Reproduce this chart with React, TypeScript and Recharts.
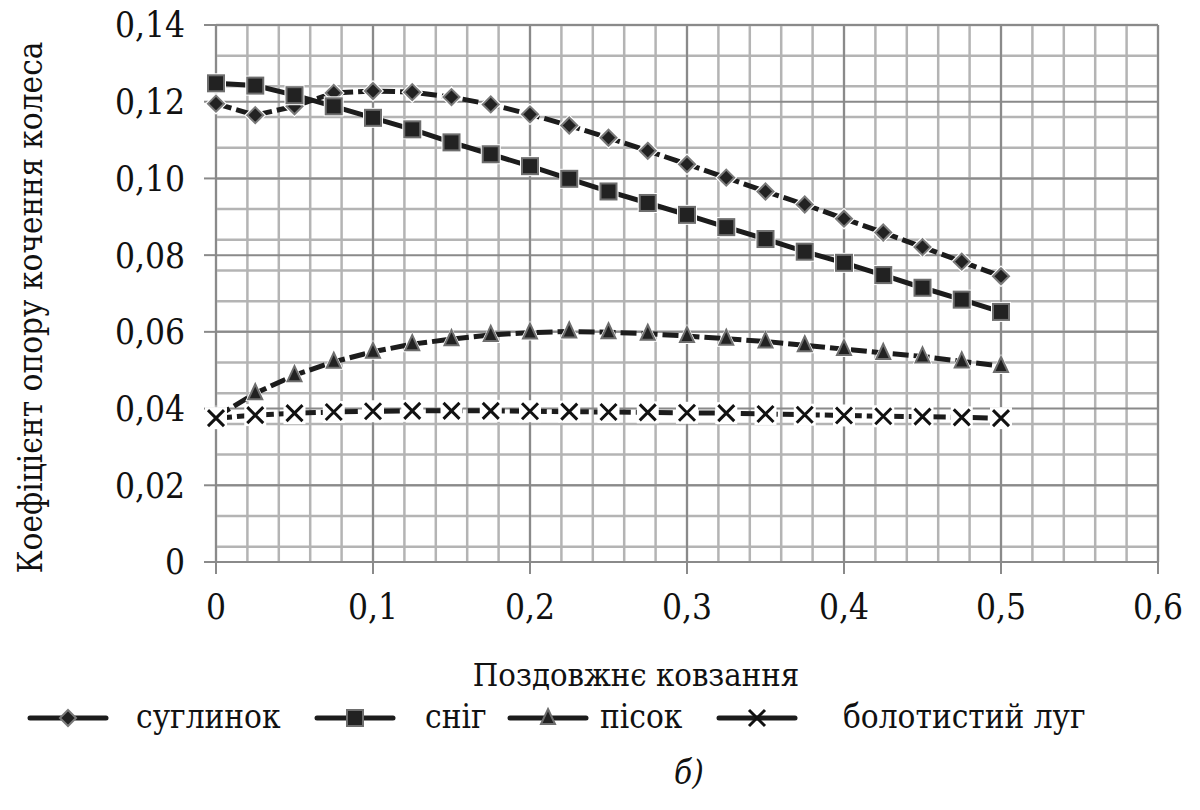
import { LineChart, Line, XAxis, YAxis, CartesianGrid, Legend } from 'recharts';

const slip = [0, 0.025, 0.05, 0.075, 0.1, 0.125, 0.15, 0.175, 0.2, 0.225, 0.25, 0.275, 0.3, 0.325, 0.35, 0.375, 0.4, 0.425, 0.45, 0.475, 0.5];

const loam = [0.1195, 0.1165, 0.1188, 0.1223, 0.1228, 0.1225, 0.1212, 0.1193, 0.1167, 0.1138, 0.1106, 0.1072, 0.1037, 0.1002, 0.0966, 0.0932, 0.0895, 0.0859, 0.0821, 0.0783, 0.0745];
const snow = [0.1248, 0.1242, 0.1217, 0.1188, 0.1158, 0.1128, 0.1094, 0.1063, 0.1032, 0.0999, 0.0966, 0.0936, 0.0905, 0.0873, 0.0842, 0.0809, 0.0780, 0.0748, 0.0715, 0.0684, 0.0652];
const sand = [0.0378, 0.0440, 0.0487, 0.0522, 0.0548, 0.0568, 0.0581, 0.0592, 0.0598, 0.0601, 0.0599, 0.0595, 0.0589, 0.0582, 0.0575, 0.0565, 0.0555, 0.0545, 0.0536, 0.0523, 0.0511];
const bog = [0.0375, 0.0383, 0.0388, 0.0391, 0.0393, 0.0394, 0.0394, 0.0394, 0.0393, 0.0392, 0.0391, 0.0390, 0.0389, 0.0388, 0.0386, 0.0384, 0.0382, 0.0380, 0.0379, 0.0377, 0.0375];

const seriesNames = ['суглинок', 'сніг', 'пісок', 'болотистий луг'];

const xTicks = [0, 0.1, 0.2, 0.3, 0.4, 0.5, 0.6];
const yTicks = [0, 0.02, 0.04, 0.06, 0.08, 0.1, 0.12, 0.14];
const xMinor = Array.from({ length: 31 }, (_, i) => i * 0.02);
const yMinor = Array.from({ length: 36 }, (_, i) => i * 0.004);

const data = slip.map((x, i) => ({ x, loam: loam[i], snow: snow[i], sand: sand[i], bog: bog[i] }));

const FONT = 'DejaVu Serif Condensed, DejaVu Serif, serif';
const LINE = '#1c1c1c';
const txt = { fontFamily: FONT, fontStretch: 'condensed' as const };

const diamond = (p: any) => {
  const { cx, cy, index, noHalo } = p;
  if (cx == null || cy == null) return <g key={`dm-${index}`} />;
  return (
    <g key={`dm-${index}`}>
      {!noHalo && <path d={`M${cx},${cy - 11}L${cx + 11},${cy}L${cx},${cy + 11}L${cx - 11},${cy}Z`} fill="#fff" />}
      <path d={`M${cx},${cy - 8}L${cx + 8},${cy}L${cx},${cy + 8}L${cx - 8},${cy}Z`} fill="#222" stroke="#7a7a7a" strokeWidth={2} />
    </g>
  );
};

const square = (p: any) => {
  const { cx, cy, index, noHalo } = p;
  if (cx == null || cy == null) return <g key={`sq-${index}`} />;
  return (
    <g key={`sq-${index}`}>
      {!noHalo && <rect x={cx - 10} y={cy - 10} width={20} height={20} fill="#fff" />}
      <rect x={cx - 8} y={cy - 8} width={16} height={16} fill="#222" stroke="#6e6e6e" strokeWidth={2} />
    </g>
  );
};

const triangle = (p: any) => {
  const { cx, cy, index, noHalo } = p;
  if (cx == null || cy == null) return <g key={`tr-${index}`} />;
  return (
    <g key={`tr-${index}`}>
      {!noHalo && <path d={`M${cx},${cy - 12}L${cx + 10},${cy + 8}L${cx - 10},${cy + 8}Z`} fill="#fff" />}
      <path d={`M${cx},${cy - 9}L${cx + 7},${cy + 6}L${cx - 7},${cy + 6}Z`} fill="#222" stroke="#6e6e6e" strokeWidth={2} />
    </g>
  );
};

const cross = (p: any) => {
  const { cx, cy, index, noHalo } = p;
  if (cx == null || cy == null) return <g key={`x-${index}`} />;
  return (
    <g key={`x-${index}`}>
      {!noHalo && <rect x={cx - 11} y={cy - 11} width={22} height={22} fill="#fff" />}
      <path d={`M${cx - 8},${cy - 8}L${cx + 8},${cy + 8}M${cx + 8},${cy - 8}L${cx - 8},${cy + 8}`} stroke="#111" strokeWidth={3} />
    </g>
  );
};

const markers = [diamond, square, triangle, cross];

// legend icon centres and text starts
const legendPos = [
  { icon: 68, text: 136 },
  { icon: 355, text: 425 },
  { icon: 548, text: 600 },
  { icon: 757, text: 843 },
];

const renderLegend = () => (
  <svg width={1200} height={50} style={{ display: 'block' }}>
    {seriesNames.map((name, i) => {
      const pos = legendPos[i];
      return (
        <g key={name}>
          <line x1={pos.icon - 38} x2={pos.icon + 38} y1={24} y2={24} stroke={LINE} strokeWidth={5} strokeLinecap="round" />
          {markers[i]({ cx: pos.icon, cy: 24, index: 'lg' + i, noHalo: true })}
          <text x={pos.text} y={24} dy="0.3em" style={txt} fontSize={33} fill="#111">{name}</text>
        </g>
      );
    })}
  </svg>
);

const fmtY = (v: number) => (v === 0 ? '0' : v.toFixed(2).replace('.', ','));
const fmtX = (v: number) => (v === 0 ? '0' : v.toFixed(1).replace('.', ','));

export default function App() {
  return (
    <div style={{ position: 'absolute', left: 0, top: 0, width: 1200, height: 810, background: '#fff', ...txt }}>
      <LineChart width={1200} height={810} data={data} margin={{ top: 25, right: 42, left: 0, bottom: 0 }}>
        <CartesianGrid verticalValues={xMinor} horizontalValues={yMinor} stroke="#b4b4b4" strokeWidth={2.5} fill="none" />
        <CartesianGrid verticalValues={xTicks} horizontalValues={yTicks} stroke="#8a8a8a" strokeWidth={2} fill="none" />
        <XAxis
          dataKey="x"
          type="number"
          domain={[0, 0.6]}
          ticks={xTicks}
          tickFormatter={fmtX}
          height={248}
          tickSize={12}
          tickMargin={20}
          axisLine={{ stroke: '#8a8a8a', strokeWidth: 2 }}
          tickLine={{ stroke: '#8a8a8a', strokeWidth: 2 }}
          tick={{ ...txt, fontSize: 35, fill: '#111' }}
          label={({ viewBox }: any) => (
            <text x={viewBox.x + viewBox.width / 2 - 51} y={viewBox.y + 113} dy="0.35em" textAnchor="middle" style={txt} fontSize={32.5} fill="#111">
              Поздовжнє ковзання
            </text>
          )}
        />
        <YAxis
          type="number"
          domain={[0, 0.14]}
          ticks={yTicks}
          tickFormatter={fmtY}
          width={216}
          tickSize={12}
          tickMargin={19}
          axisLine={{ stroke: '#8a8a8a', strokeWidth: 2 }}
          tickLine={{ stroke: '#8a8a8a', strokeWidth: 2 }}
          tick={{ ...txt, fontSize: 35, fill: '#111' }}
          label={({ viewBox }: any) => (
            <text
              x={30}
              y={viewBox.y + viewBox.height / 2 + 14}
              transform={`rotate(-90, 30, ${viewBox.y + viewBox.height / 2 + 14})`}
              dy="0.35em"
              textAnchor="middle"
              style={txt}
              fontSize={33}
              fill="#111"
            >
              Коефіцієнт опору кочення колеса
            </text>
          )}
        />
        <Legend verticalAlign="middle" layout="horizontal" wrapperStyle={{ top: 694, left: 0, width: 1200 }} content={renderLegend} />
        <Line dataKey="loam" name={seriesNames[0]} stroke={LINE} strokeWidth={5} strokeDasharray="16 5" dot={diamond} isAnimationActive={false} />
        <Line dataKey="snow" name={seriesNames[1]} stroke={LINE} strokeWidth={5} dot={square} isAnimationActive={false} />
        <Line dataKey="sand" name={seriesNames[2]} stroke={LINE} strokeWidth={5} strokeDasharray="16 5" dot={triangle} isAnimationActive={false} />
        <Line dataKey="bog" name={seriesNames[3]} stroke={LINE} strokeWidth={5} strokeDasharray="16 5" dot={cross} isAnimationActive={false} />
      </LineChart>
      <div style={{ position: 'absolute', top: 753, left: 674, ...txt, fontSize: 33, fontStyle: 'italic', color: '#111' }}>б)</div>
    </div>
  );
}
